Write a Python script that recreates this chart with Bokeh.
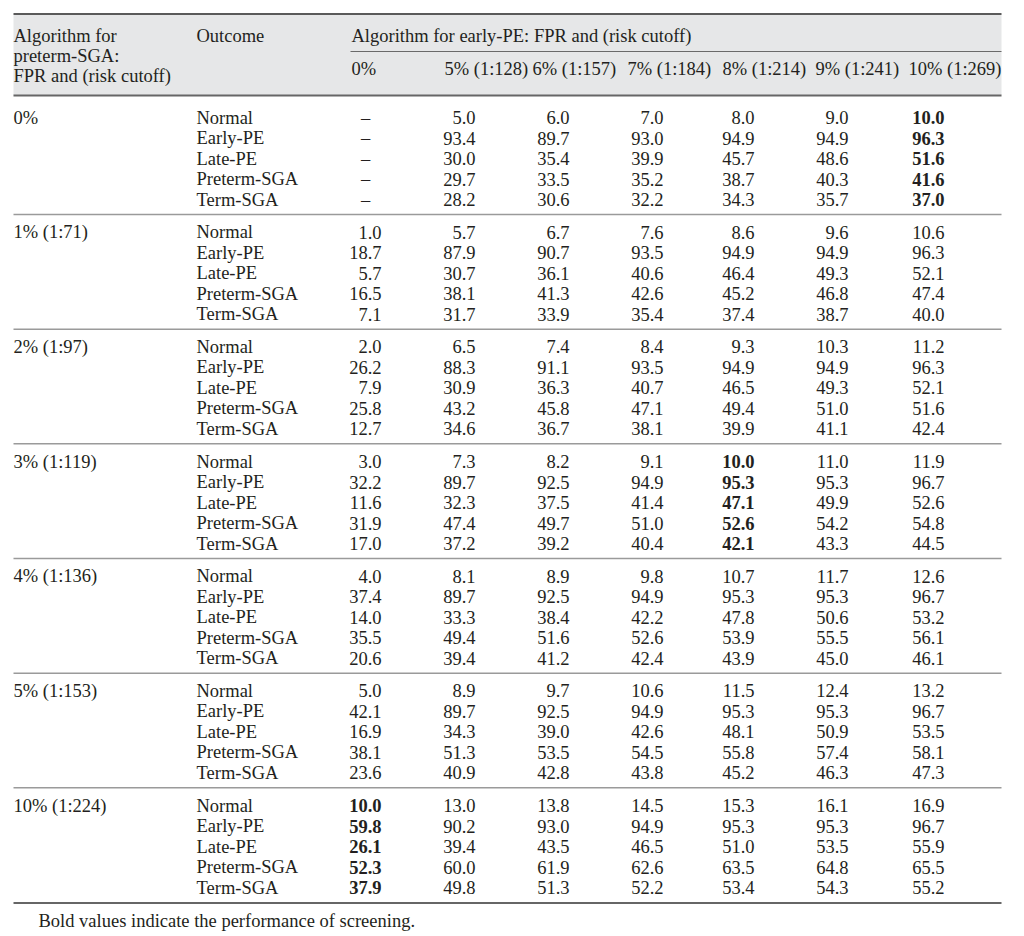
from bokeh.plotting import figure
from bokeh.models import ColumnDataSource, Range1d
from bokeh.core.properties import value
from bokeh.embed import file_html
from bokeh.resources import INLINE

# ---------------- data ----------------
sga_labels = ["0%", "1% (1:71)", "2% (1:97)", "3% (1:119)", "4% (1:136)", "5% (1:153)", "10% (1:224)"]
outcomes = ["Normal", "Early-PE", "Late-PE", "Preterm-SGA", "Term-SGA"]
pe_labels = ["0%", "5% (1:128)", "6% (1:157)", "7% (1:184)", "8% (1:214)", "9% (1:241)", "10% (1:269)"]

grp_0 = [[None, 5.0, 6.0, 7.0, 8.0, 9.0, 10.0],
         [None, 93.4, 89.7, 93.0, 94.9, 94.9, 96.3],
         [None, 30.0, 35.4, 39.9, 45.7, 48.6, 51.6],
         [None, 29.7, 33.5, 35.2, 38.7, 40.3, 41.6],
         [None, 28.2, 30.6, 32.2, 34.3, 35.7, 37.0]]
grp_1 = [[1.0, 5.7, 6.7, 7.6, 8.6, 9.6, 10.6],
         [18.7, 87.9, 90.7, 93.5, 94.9, 94.9, 96.3],
         [5.7, 30.7, 36.1, 40.6, 46.4, 49.3, 52.1],
         [16.5, 38.1, 41.3, 42.6, 45.2, 46.8, 47.4],
         [7.1, 31.7, 33.9, 35.4, 37.4, 38.7, 40.0]]
grp_2 = [[2.0, 6.5, 7.4, 8.4, 9.3, 10.3, 11.2],
         [26.2, 88.3, 91.1, 93.5, 94.9, 94.9, 96.3],
         [7.9, 30.9, 36.3, 40.7, 46.5, 49.3, 52.1],
         [25.8, 43.2, 45.8, 47.1, 49.4, 51.0, 51.6],
         [12.7, 34.6, 36.7, 38.1, 39.9, 41.1, 42.4]]
grp_3 = [[3.0, 7.3, 8.2, 9.1, 10.0, 11.0, 11.9],
         [32.2, 89.7, 92.5, 94.9, 95.3, 95.3, 96.7],
         [11.6, 32.3, 37.5, 41.4, 47.1, 49.9, 52.6],
         [31.9, 47.4, 49.7, 51.0, 52.6, 54.2, 54.8],
         [17.0, 37.2, 39.2, 40.4, 42.1, 43.3, 44.5]]
grp_4 = [[4.0, 8.1, 8.9, 9.8, 10.7, 11.7, 12.6],
         [37.4, 89.7, 92.5, 94.9, 95.3, 95.3, 96.7],
         [14.0, 33.3, 38.4, 42.2, 47.8, 50.6, 53.2],
         [35.5, 49.4, 51.6, 52.6, 53.9, 55.5, 56.1],
         [20.6, 39.4, 41.2, 42.4, 43.9, 45.0, 46.1]]
grp_5 = [[5.0, 8.9, 9.7, 10.6, 11.5, 12.4, 13.2],
         [42.1, 89.7, 92.5, 94.9, 95.3, 95.3, 96.7],
         [16.9, 34.3, 39.0, 42.6, 48.1, 50.9, 53.5],
         [38.1, 51.3, 53.5, 54.5, 55.8, 57.4, 58.1],
         [23.6, 40.9, 42.8, 43.8, 45.2, 46.3, 47.3]]
grp_10 = [[10.0, 13.0, 13.8, 14.5, 15.3, 16.1, 16.9],
          [59.8, 90.2, 93.0, 94.9, 95.3, 95.3, 96.7],
          [26.1, 39.4, 43.5, 46.5, 51.0, 53.5, 55.9],
          [52.3, 60.0, 61.9, 62.6, 63.5, 64.8, 65.5],
          [37.9, 49.8, 51.3, 52.2, 53.4, 54.3, 55.2]]
groups = [grp_0, grp_1, grp_2, grp_3, grp_4, grp_5, grp_10]

# (group index, column index) whose values are printed in bold
bold_cells = [(0, 6), (3, 4), (6, 0)]

footnote = "Bold values indicate the performance of screening."

# ---------------- layout ----------------
FONT = value("Liberation Serif")
FS = "18.5px"
INK = "#231f20"
X0, X1 = 13, 1001
LABEL_X = 13
OUT_X = 196
COL_RIGHT = [381, 475, 569, 663, 754, 848, 944]
DASH_X = 365
HDR_X = [351, 444, 532, 627, 722, 815, 908]
ROW0 = 117
ROW_STEP = 20.5
GRP_STEP = 114.67

W, H = 1024, 936
p = figure(width=W, height=H, output_backend="svg", toolbar_location=None,
           x_range=Range1d(0, W), y_range=Range1d(H, 0),
           min_border=0, outline_line_color=None, background_fill_color="white",
           border_fill_color="white")
p.axis.visible = False
p.xgrid.visible = False
p.ygrid.visible = False

# header band
p.quad(left=[X0], right=[X1], top=[14], bottom=[95], fill_color="#e6e7e8", line_color=None)

# rules
p.segment(x0=[X0], x1=[X1], y0=[13.5], y1=[13.5], line_color="#5a5a5a", line_width=2)
p.segment(x0=[350], x1=[X1], y0=[51], y1=[51], line_color="#6a6a6a", line_width=1.2)
p.segment(x0=[X0], x1=[X1], y0=[95], y1=[95], line_color="#666666", line_width=2)
sep_y = [ROW0 + 97 + g * GRP_STEP for g in range(len(groups) - 1)]
p.segment(x0=[X0] * len(sep_y), x1=[X1] * len(sep_y), y0=sep_y, y1=sep_y,
          line_color="#9a9a9a", line_width=1.5)
bottom_y = ROW0 + 97 + (len(groups) - 1) * GRP_STEP + 0.5
p.segment(x0=[X0], x1=[X1], y0=[bottom_y], y1=[bottom_y], line_color="#666666", line_width=2)

# header text
hdr = ColumnDataSource(dict(
    x=[LABEL_X, LABEL_X, LABEL_X, OUT_X, HDR_X[0]] + HDR_X,
    y=[35, 55, 75, 35, 35] + [68] * len(HDR_X),
    t=["Algorithm for", "preterm-SGA:", "FPR and (risk cutoff)", "Outcome",
       "Algorithm for early-PE: FPR and (risk cutoff)"] + pe_labels,
))
p.text(x="x", y="y", text="t", source=hdr, text_font=FONT, text_font_size=FS,
       text_color=INK, text_align="left", text_baseline="middle")

# body
lab = dict(x=[], y=[], t=[])
reg = dict(x=[], y=[], t=[])
bld = dict(x=[], y=[], t=[])
dsh = dict(x=[], y=[], t=[])
for g, rows in enumerate(groups):
    gy = ROW0 + g * GRP_STEP
    lab["x"].append(LABEL_X); lab["y"].append(gy); lab["t"].append(sga_labels[g])
    for k, row in enumerate(rows):
        y = gy + k * ROW_STEP
        lab["x"].append(OUT_X); lab["y"].append(y); lab["t"].append(outcomes[k])
        for c, v in enumerate(row):
            if v is None:
                dsh["x"].append(DASH_X); dsh["y"].append(y); dsh["t"].append("\u2013")
                continue
            d = bld if (g, c) in bold_cells else reg
            d["x"].append(COL_RIGHT[c]); d["y"].append(y); d["t"].append(f"{v:.1f}")

p.text(x="x", y="y", text="t", source=ColumnDataSource(lab), text_font=FONT, text_font_size=FS,
       text_color=INK, text_align="left", text_baseline="middle")
p.text(x="x", y="y", text="t", source=ColumnDataSource(reg), text_font=FONT, text_font_size=FS,
       text_color=INK, text_align="right", text_baseline="middle")
p.text(x="x", y="y", text="t", source=ColumnDataSource(bld), text_font=FONT, text_font_size=FS,
       text_font_style="bold", text_color=INK, text_align="right", text_baseline="middle")
p.text(x="x", y="y", text="t", source=ColumnDataSource(dsh), text_font=FONT, text_font_size=FS,
       text_color=INK, text_align="center", text_baseline="middle")

# footnote
p.text(x=[38], y=[920], text=[footnote], text_font=FONT, text_font_size=FS,
       text_color=INK, text_align="left", text_baseline="middle")

open("out.html", "w").write(file_html(p, INLINE))
